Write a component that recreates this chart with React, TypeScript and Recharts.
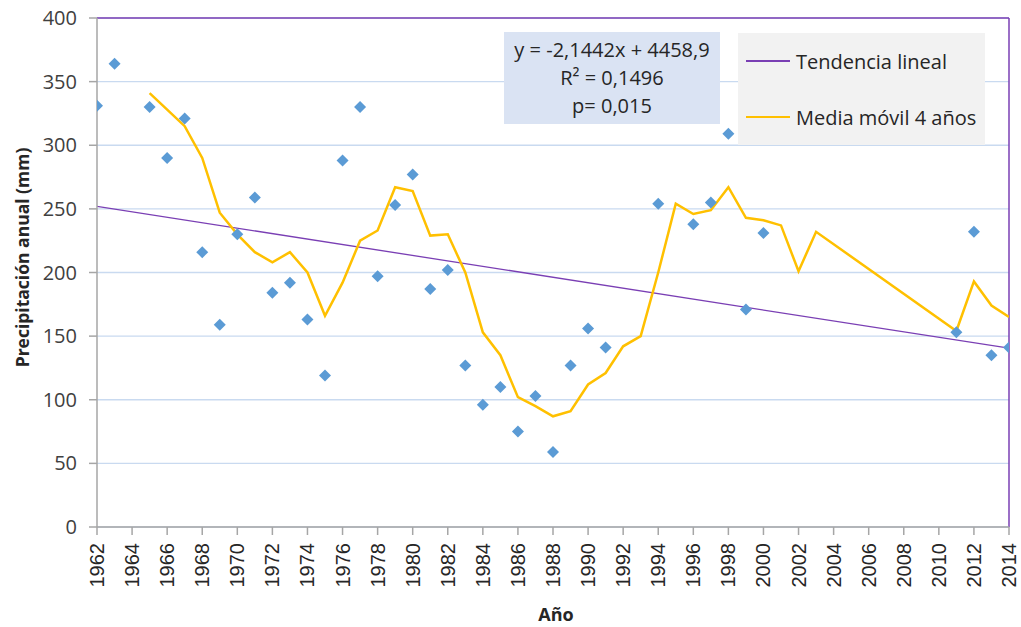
import React from 'react';
import { ComposedChart, XAxis, YAxis, CartesianGrid, Scatter, Line, ReferenceLine, Label } from 'recharts';

const W = 1021;
const H = 627;

const obsYears = [1962, 1963, 1965, 1966, 1967, 1968, 1969, 1970, 1971, 1972, 1973, 1974, 1975, 1976, 1977, 1978, 1979, 1980, 1981, 1982, 1983, 1984, 1985, 1986, 1987, 1988, 1989, 1990, 1991, 1994, 1996, 1997, 1998, 1999, 2000, 2011, 2012, 2013, 2014];
const obsValues = [331, 364, 330, 290, 321, 216, 159, 230, 259, 184, 192, 163, 119, 288, 330, 197, 253, 277, 187, 202, 127, 96, 110, 75, 103, 59, 127, 156, 141, 254, 238, 255, 309, 171, 231, 153, 232, 135, 141];

const maYears = [1965, 1966, 1967, 1968, 1969, 1970, 1971, 1972, 1973, 1974, 1975, 1976, 1977, 1978, 1979, 1980, 1981, 1982, 1983, 1984, 1985, 1986, 1987, 1988, 1989, 1990, 1991, 1992, 1993, 1994, 1995, 1996, 1997, 1998, 1999, 2000, 2001, 2002, 2003, 2011, 2012, 2013, 2014];
const maValues = [341, 328, 315, 290, 247, 230, 216, 208, 216, 200, 166, 192, 225, 233, 267, 264, 229, 230, 200, 153, 135, 102, 95, 87, 91, 112, 121, 142, 150, 200, 254, 246, 249, 267, 243, 241, 237, 201, 232, 154, 193, 174, 165];

const trendYears = [1962, 2014];
const trendValues = [252.0, 140.5];

const xTicks = [1962, 1964, 1966, 1968, 1970, 1972, 1974, 1976, 1978, 1980, 1982, 1984, 1986, 1988, 1990, 1992, 1994, 1996, 1998, 2000, 2002, 2004, 2006, 2008, 2010, 2012, 2014];
const yTicks = [0, 50, 100, 150, 200, 250, 300, 350, 400];

const trendName = 'Tendencia lineal';
const maName = 'Media móvil 4 años';
const eqLines = ['y = -2,1442x + 4458,9', 'R² = 0,1496', 'p= 0,015'];
const xTitle = 'Año';
const yTitle = 'Precipitación anual (mm)';

const obsData = obsYears.map((year, i) => ({ year, v: obsValues[i] }));
const maData = maYears.map((year, i) => ({ year, v: maValues[i] }));
const trendData = trendYears.map((year, i) => ({ year, v: trendValues[i] }));

const PURPLE = '#7a3fb4';
const YELLOW = '#ffc000';
const BLUE = '#5b9bd5';
const AXIS = '#a6a6a6';
const GRID = '#c9daf0';

const Diamond = (p: any) => {
  const { cx, cy } = p;
  const r = 6;
  return <polygon points={`${cx},${cy - r} ${cx + r},${cy} ${cx},${cy + r} ${cx - r},${cy}`} fill={BLUE} />;
};

const XTick = (p: any) => {
  const { x, y, payload } = p;
  return (
    <text
      x={x}
      y={y}
      transform={`rotate(-90 ${x} ${y})`}
      textAnchor="end"
      dominantBaseline="central"
      fontSize={20}
      fontFamily="'Liberation Sans', Arial, sans-serif"
      fill="#262626"
    >
      {payload.value}
    </text>
  );
};

export default function App() {
  return (
    <div style={{ position: 'absolute', left: 0, top: 0, width: W, height: H, background: '#fff' }}>
      <ComposedChart width={W} height={H} margin={{ top: 18, right: 12, bottom: 0, left: 0 }}>
        <CartesianGrid vertical={false} stroke={GRID} strokeWidth={1.3} />
        <XAxis
          dataKey="year"
          type="number"
          domain={[1962, 2014]}
          ticks={xTicks}
          interval={0}
          height={100}
          tickSize={8}
          tickMargin={8}
          axisLine={{ stroke: AXIS, strokeWidth: 1.5 }}
          tickLine={{ stroke: AXIS, strokeWidth: 1.5 }}
          tick={<XTick />}
          allowDataOverflow
        >
          <Label
            content={(lp: any) => {
              const vb = lp.viewBox;
              return (
                <text x={vb.x + vb.width / 2 + 3} y={621} textAnchor="middle" fontSize={18} fontWeight="bold" fontFamily="'Open Sans', sans-serif" fill="#262626">
                  {xTitle}
                </text>
              );
            }}
          />
        </XAxis>
        <YAxis
          type="number"
          domain={[0, 400]}
          ticks={yTicks}
          interval={0}
          width={97}
          tickSize={8}
          tickMargin={12}
          axisLine={{ stroke: AXIS, strokeWidth: 1.5 }}
          tickLine={{ stroke: AXIS, strokeWidth: 1.5 }}
          tick={{ fontSize: 20, fill: '#404040', fontFamily: "'Open Sans', sans-serif" }}
        >
          <Label
            content={(lp: any) => {
              const vb = lp.viewBox;
              const cx = 22;
              const cy = vb.y + vb.height / 2 - 15;
              return (
                <text x={cx} y={cy} transform={`rotate(-90 ${cx} ${cy})`} textAnchor="middle" dominantBaseline="central" fontSize={17.5} fontWeight="bold" fontFamily="'Open Sans', sans-serif" fill="#262626">
                  {yTitle}
                </text>
              );
            }}
          />
        </YAxis>
        <ReferenceLine y={400} stroke={PURPLE} strokeWidth={1.5} />
        <ReferenceLine x={2014} stroke={PURPLE} strokeWidth={1.5} />
        <Line data={trendData} dataKey="v" name={trendName} type="linear" stroke={PURPLE} strokeWidth={1.3} dot={false} isAnimationActive={false} />
        <Scatter data={obsData} dataKey="v" shape={<Diamond />} isAnimationActive={false} />
        <Line data={maData} dataKey="v" name={maName} type="linear" stroke={YELLOW} strokeWidth={2.5} dot={false} isAnimationActive={false} />
      </ComposedChart>
      <div
        style={{
          position: 'absolute', left: 504, top: 32, width: 216, height: 92, background: '#dae3f3',
          display: 'flex', flexDirection: 'column', justifyContent: 'center', alignItems: 'center',
          fontFamily: "'Open Sans', sans-serif", fontSize: 20, color: '#262626', lineHeight: '28px',
        }}
      >
        {eqLines.map((t) => (
          <div key={t} style={{ whiteSpace: 'nowrap' }}>{t}</div>
        ))}
      </div>
      <div
        style={{
          position: 'absolute', left: 738, top: 33, width: 247, height: 112, background: '#f2f2f2',
          fontFamily: "'Open Sans', sans-serif", fontSize: 20, color: '#262626',
        }}
      >
        {[{ name: trendName, color: PURPLE, w: 1.5, y: 28 }, { name: maName, color: YELLOW, w: 2.5, y: 84 }].map((it) => (
          <div key={it.name} style={{ position: 'absolute', left: 8, top: it.y - 14, height: 28, display: 'flex', alignItems: 'center', whiteSpace: 'nowrap' }}>
            <div style={{ width: 44, height: it.w, background: it.color, marginRight: 6 }} />
            <span>{it.name}</span>
          </div>
        ))}
      </div>
    </div>
  );
}
